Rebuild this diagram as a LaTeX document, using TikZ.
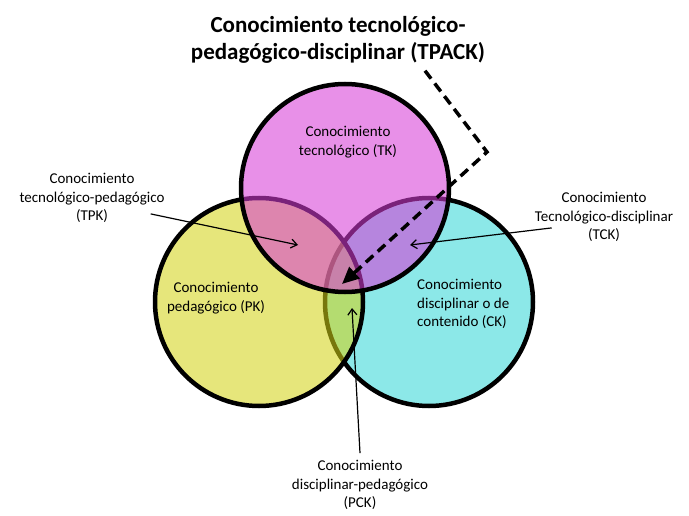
\documentclass[tikz,border=0pt]{standalone}
\usepackage{fontspec}
\setmainfont{Carlito}
\definecolor{tkpink}{RGB}{215, 60, 215}
\definecolor{pkyellow}{RGB}{211, 211, 22}
\definecolor{ckcyan}{RGB}{53, 215, 215}
\usetikzlibrary{arrows.meta, calc}
\tikzset{
	area/.style={circle, draw=black, line width=4.5pt, fill opacity=0.57, minimum size=208pt, inner sep=0pt},
	lbl/.style={align=center, inner sep=0pt, font=\fontsize{15}{18.5}\selectfont},
	heading/.style={align=center, inner sep=0pt, font=\fontsize{23}{27}\selectfont\bfseries},
	pointer/.style={-{Straight Barb[length=6pt, width=9pt]}, line width=1.2pt},
	dasharrow/.style={-{Triangle[length=17pt, width=15pt]}, line width=3.5pt, dash pattern=on 10pt off 6pt},
}

\begin{document}
\begin{tikzpicture}[x=1pt, y=-1pt]
		\useasboundingbox (0,0) rectangle (689,516);
		% the three knowledge areas
		\node[area, fill=ckcyan] (ck-area) at (429,302) {};
		\node[area, fill=pkyellow] (pk-area) at (259,302) {};
		\node[area, fill=tkpink] (tk-area) at (345,188) {};
		% texts
		\node[heading] (tpack) at (338,40) {Conocimiento tecnológico-\\pedagógico-disciplinar (TPACK)};
		\node[lbl] (tk) at (348,142) {Conocimiento\\tecnológico (TK)};
		\node[lbl] (pk) at (216,298) {Conocimiento\\pedagógico (PK)};
		\node[lbl, align=left, anchor=west] (ck) at (417,304) {Conocimiento\\disciplinar o de\\contenido (CK)};
		\node[lbl] (tpk) at (92,198) {Conocimiento\\tecnológico-pedagógico\\(TPK)};
		\node[lbl] (tck) at (604,217) {Conocimiento\\Tecnológico-disciplinar\\(TCK)};
		\node[lbl] (pck) at (360,485) {Conocimiento\\disciplinar-pedagógico\\(PCK)};
		% pointers
		\coordinate (tpk-pt) at (298,245);
		\coordinate (tck-pt) at (410,245);
		\coordinate (pck-pt) at (352,308);
		\coordinate (bend) at (487,152);
		\coordinate (tpack-pt) at (342,284);
		\draw[pointer] ([xshift=-14pt, yshift=9pt]tpk.south east) -- (tpk-pt);
		\draw[pointer] ([xshift=17pt, yshift=14pt]tck.south west) -- (tck-pt);
		\draw[pointer] ([yshift=7pt]pck.north) -- (pck-pt);
		\draw[dasharrow] ([xshift=87pt, yshift=-7pt]tpack.south) -- (bend) -- (tpack-pt);
	\end{tikzpicture}
\end{document}
